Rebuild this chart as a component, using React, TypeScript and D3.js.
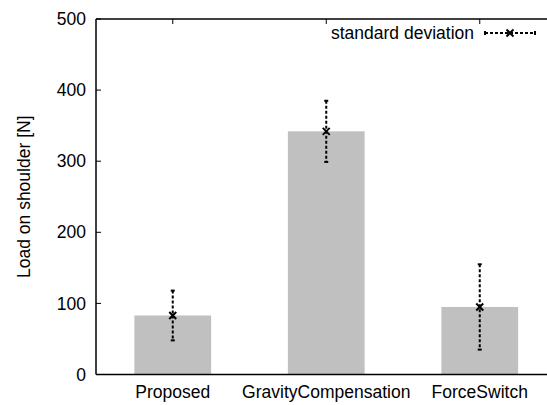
import React from "react";
import * as d3 from "d3";

const categories = ["Proposed", "GravityCompensation", "ForceSwitch"];
const means = [83, 342, 95];
const stdDevs = [35, 43, 60];
const yTicks = [0, 100, 200, 300, 400, 500];
const legendLabel = "standard deviation";
const yLabel = "Load on shoulder [N]";

const W = 547;
const H = 405;
const left = 96;
const top = 19;
const bottom = 374.5;
const step = 153.5;
const FONT = "'Liberation Sans', Arial, Helvetica, sans-serif";
const FS = 17.5;

function Cross({ x, y, s = 3.5 }: { x: number; y: number; s?: number }) {
  return (
    <g stroke="#000" strokeWidth={2}>
      <line x1={x - s} y1={y - s} x2={x + s} y2={y + s} />
      <line x1={x - s} y1={y + s} x2={x + s} y2={y - s} />
    </g>
  );
}

export default function App() {
  const x = d3.scaleLinear().domain([-0.5, categories.length - 0.5]).range([left, left + step * categories.length]);
  const y = d3.scaleLinear().domain([0, 500]).range([bottom, top]);
  const barW = step * 0.5;
  const dash = "3,2";

  return (
    <svg width={W} height={H} style={{ position: "absolute", left: 0, top: 0, background: "#fff" }} fontFamily={FONT}>
      <rect x={0} y={0} width={W} height={H} fill="#fff" />
      {/* ticks */}
      {yTicks.map((t) => (
        <g key={t}>
          <line x1={left} x2={left + 5} y1={y(t)} y2={y(t)} stroke="#000" strokeWidth={1} />
          <text x={86} y={y(t)} dy="0.35em" textAnchor="end" fontSize={FS} fill="#000">
            {t}
          </text>
        </g>
      ))}
      {categories.map((c, i) => (
        <g key={c}>
          <line x1={x(i)} x2={x(i)} y1={top} y2={top + 5} stroke="#000" strokeWidth={1} />
          <line x1={x(i)} x2={x(i)} y1={bottom} y2={bottom - 5} stroke="#000" strokeWidth={1} />
          <text x={x(i)} y={398} textAnchor="middle" fontSize={FS} fill="#000">
            {c}
          </text>
        </g>
      ))}
      {/* bars */}
      {categories.map((c, i) => (
        <rect key={c} x={x(i) - barW / 2} y={y(means[i])} width={barW} height={bottom - y(means[i])} fill="#c0c0c0" />
      ))}
      {/* error bars */}
      {categories.map((c, i) => {
        const cx = x(i);
        const y1 = y(means[i] + stdDevs[i]);
        const y2 = y(means[i] - stdDevs[i]);
        return (
          <g key={c}>
            <line x1={cx} x2={cx} y1={y1} y2={y2} stroke="#000" strokeWidth={2} strokeDasharray={dash} />
            <line x1={cx - 2} x2={cx + 2} y1={y1} y2={y1} stroke="#000" strokeWidth={2} />
            <line x1={cx - 2} x2={cx + 2} y1={y2} y2={y2} stroke="#000" strokeWidth={2} />
            <Cross x={cx} y={y(means[i])} />
          </g>
        );
      })}
      {/* axes */}
      <line x1={left} x2={W} y1={top} y2={top} stroke="#000" strokeWidth={1.5} />
      <line x1={left} x2={W} y1={bottom} y2={bottom} stroke="#000" strokeWidth={1.5} />
      <line x1={left} x2={left} y1={top} y2={bottom} stroke="#000" strokeWidth={1.5} />
      {/* y label */}
      <text
        transform={`translate(30,${(top + bottom) / 2}) rotate(-90)`}
        textAnchor="middle"
        fontSize={FS}
        fill="#000"
      >
        {yLabel}
      </text>
      {/* legend */}
      <text x={474} y={33} dy="0.35em" textAnchor="end" fontSize={FS} fill="#000">
        {legendLabel}
      </text>
      <line x1={485} x2={535} y1={33} y2={33} stroke="#000" strokeWidth={2} strokeDasharray={dash} />
      <line x1={485} x2={485} y1={31} y2={35} stroke="#000" strokeWidth={2} />
      <line x1={535} x2={535} y1={31} y2={35} stroke="#000" strokeWidth={2} />
      <Cross x={510} y={33} />
    </svg>
  );
}
